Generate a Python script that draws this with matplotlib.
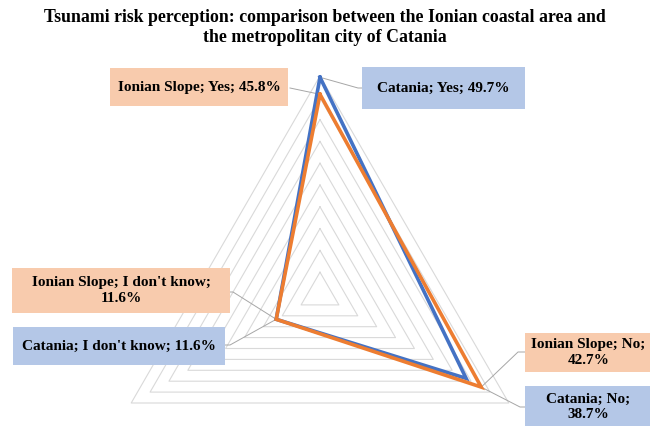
import numpy as np
import matplotlib.pyplot as plt
from matplotlib.patches import Rectangle

plt.rcParams["font.family"] = ["Liberation Serif", "DejaVu Serif"]

categories = ["Yes", "No", "I don't know"]
catania = [0.497, 0.387, 0.116]
ionian = [0.458, 0.427, 0.116]
ring_values = np.arange(0.05, 0.501, 0.05)

BLUE = "#4472C4"
ORANGE = "#ED7D31"
BLUE_BOX = "#B4C7E7"
ORANGE_BOX = "#F8CBAD"

W, H = 650, 426
CX, CY = 320, 294          # radar centre in pixels
SCALE = 436                # pixels per unit of value

fig = plt.figure(figsize=(W / 100, H / 100), dpi=100)
ax = fig.add_axes([0, 0, 1, 1])
ax.set_xlim(-CX / SCALE, (W - CX) / SCALE)
ax.set_ylim((CY - H) / SCALE, CY / SCALE)
ax.axis("off")

# axis directions: Yes up, No lower right, I don't know lower left
angles = np.deg2rad([90, -30, 210])


def to_xy(values):
    v = np.asarray(values)
    x = v * np.cos(angles)
    y = v * np.sin(angles)
    return np.append(x, x[0]), np.append(y, y[0])


def px(x, y):
    """pixel position -> data coords"""
    return (x - CX) / SCALE, (CY - y) / SCALE


for r in ring_values:
    gx, gy = to_xy([r] * 3)
    ax.plot(gx, gy, color="#D9D9D9", lw=0.8, zorder=1)

bx, by = to_xy(catania)
ax.plot(bx, by, color=BLUE, lw=2.6, zorder=3, solid_joinstyle="miter")
ox, oy = to_xy(ionian)
ax.plot(ox, oy, color=ORANGE, lw=2.6, zorder=4, solid_joinstyle="miter")


def label_box(x0, y0, x1, y1, color, text):
    (dx0, dy0), (dx1, dy1) = px(x0, y0), px(x1, y1)
    ax.add_patch(Rectangle((dx0, dy1), dx1 - dx0, dy0 - dy1,
                           facecolor=color, edgecolor="none", zorder=5, clip_on=False))
    ax.text((dx0 + dx1) / 2, (dy0 + dy1) / 2, text, ha="center", va="center",
            fontsize=11, fontweight="bold", zorder=6, linespacing=1.3)


def leader(start, *pts):
    xs = [start[0]] + [px(*p)[0] for p in pts]
    ys = [start[1]] + [px(*p)[1] for p in pts]
    ax.plot(xs, ys, color="#A6A6A6", lw=0.7, zorder=2)


# data labels
label_box(110, 68, 288, 106, ORANGE_BOX,
          f"Ionian Slope; {categories[0]}; {ionian[0] * 100:.1f}%")
label_box(362, 67, 525, 109, BLUE_BOX,
          f"Catania; {categories[0]}; {catania[0] * 100:.1f}%")
label_box(12, 268, 230, 313, ORANGE_BOX,
          f"Ionian Slope; {categories[2]};\n{ionian[2] * 100:.1f}%")
label_box(13, 327, 225, 365, BLUE_BOX,
          f"Catania; {categories[2]}; {catania[2] * 100:.1f}%")
label_box(525, 333, 652, 372, ORANGE_BOX,
          f"Ionian Slope; {categories[1]};\n{ionian[1] * 100:.1f}%")
label_box(525, 386, 652, 428, BLUE_BOX,
          f"Catania; {categories[1]};\n{catania[1] * 100:.1f}%")

leader((ox[0], oy[0]), (290, 88))
leader((bx[0], by[0]), (358, 88), (362, 88))
leader((ox[2], oy[2]), (233, 292), (230, 292))
leader((bx[2], by[2]), (230, 345), (225, 345))
leader((ox[1], oy[1]), (518, 352), (525, 352))
leader((ox[1], oy[1]), (520, 407), (525, 407))

fig.text(0.5, 1 - 9 / H,
         "Tsunami risk perception: comparison between the Ionian coastal area and\n"
         "the metropolitan city of Catania",
         ha="center", va="top", fontsize=12.8, fontweight="bold", linespacing=1.25)

fig.savefig("out.png", dpi=100)
